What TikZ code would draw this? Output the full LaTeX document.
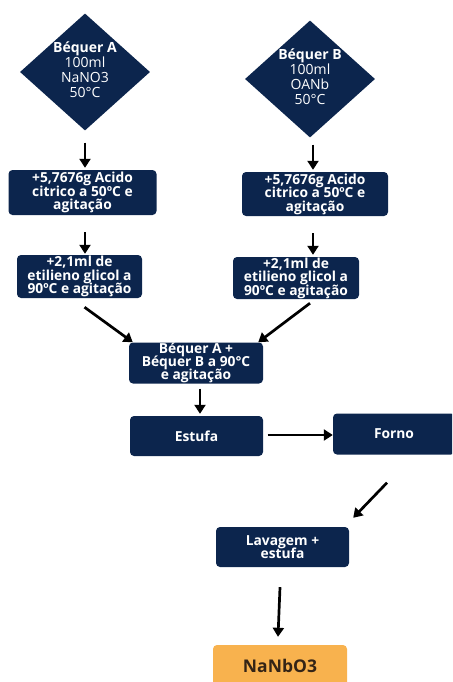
\documentclass[tikz,border=0pt]{standalone}
\usepackage{fontspec}
\setmainfont{Open Sans}
\usetikzlibrary{shapes.geometric,arrows.meta,calc}
\definecolor{navy}{RGB}{12,37,77}
\definecolor{gold}{RGB}{248,178,78}
\definecolor{darkbrown}{RGB}{52,36,22}
\newcommand{\tightfont}[2]{\fontsize{#1}{#2}\selectfont\lineskiplimit=-100pt\relax}
\tikzset{
  diam/.style={diamond,fill=navy,draw=none,inner sep=0pt,minimum width=130pt,minimum height=117pt},
  dtext/.style={text=white,align=center,font=\tightfont{14}{15},inner sep=0pt},
  stepbox/.style={rectangle,rounded corners=4pt,fill=navy,text=white,align=center,inner sep=0pt,font=\bfseries\tightfont{13.8}{13.5}},
  endbox/.style={rectangle,rounded corners=4pt,fill=gold,text=darkbrown,align=center,inner sep=0pt,font=\bfseries\tightfont{17.5}{17.5}},
  arr/.style={-{Triangle[length=9pt,width=11pt]},line width=2.7pt,black}
}
\begin{document}
\begin{tikzpicture}[x=1pt,y=-1pt]
\useasboundingbox (0,0) rectangle (452,682);
\begin{scope}
\clip (0,0) rectangle (452,682);
% diamonds
\node[diam] (bA) at (85,72) {};
\node[dtext] (tA) at (85,70) {\textbf{Béquer A}\\100ml\\NaNO3\\50°C};
\node[diam] (bB) at (310,79) {};
\node[dtext] (tB) at (310,77) {\textbf{Béquer B}\\100ml\\OANb\\50°C};
% boxes
\node[stepbox,minimum width=148pt,minimum height=45pt] (A1) at (82.5,192.5) {+5,7676g Acido\\citrico a 50ºC e\\agitação};
\node[stepbox,minimum width=146pt,minimum height=44pt] (B1) at (315,194) {+5,7676g Acido\\citrico a 50ºC e\\agitação};
\node[stepbox,minimum width=125pt,minimum height=43pt] (A2) at (79.5,276.5) {+2,1ml de\\etilieno glicol a\\90ºC e agitação};
\node[stepbox,minimum width=126pt,minimum height=42pt] (B2) at (296,278) {+2,1ml de\\etilieno glicol a\\90ºC e agitação};
\node[stepbox,minimum width=134pt,minimum height=41pt,font=\bfseries\tightfont{13.8}{13}] (M) at (196,363) {Béquer A +\\Béquer B a 90°C\\e agitação};
\node[stepbox,minimum width=133pt,minimum height=40pt] (E) at (196.5,436) {Estufa};
\node[stepbox,minimum width=122pt,minimum height=41pt] (F) at (394,434) {Forno};
\node[stepbox,minimum width=133pt,minimum height=40pt,font=\bfseries\tightfont{13.8}{13}] (L) at (282.5,547) {Lavagem +\\estufa};
\node[endbox,minimum width=134pt,minimum height=42pt] (N) at (280,666) {NaNbO3};
% arrows
\draw[arr] ($(bA.south)+(0,12)$) -- ($(bA.south|-A1.north)+(0,-2)$);
\draw[arr] ($(bB.south)+(3,7)$) -- ($(bB.south|-B1.north)+(3,-2)$);
\draw[arr] ($(A1.south)+(2.5,17)$) -- ($(A1.south|-A2.north)+(2.5,-1)$);
\draw[arr] ($(B1.south)+(-2,17)$) -- ($(B1.south|-B2.north)+(-2,-2)$);
\draw[arr] ($(A2.south)+(5,9)$) -- ($(M.north west)+(4,0)$);
\draw[arr] ($(B2.south)+(14,4)$) -- ($(M.north east)+(-5,0)$);
\draw[arr] ($(M.south)+(4,5)$) -- ($(M.south|-E.north)+(4,-2)$);
\draw[arr] ($(E.east)+(4.5,-1)$) -- ($(F.west|-E.east)+(0,-1)$);
\draw[arr] ($(F.south)+(-7,28)$) -- ($(L.north east)+(4,-9)$);
\draw[arr] ($(L.south)+(-2.5,20)$) -- ($(L.south|-N.north)+(-4.5,-8)$);
\end{scope}
\end{tikzpicture}
\end{document}
